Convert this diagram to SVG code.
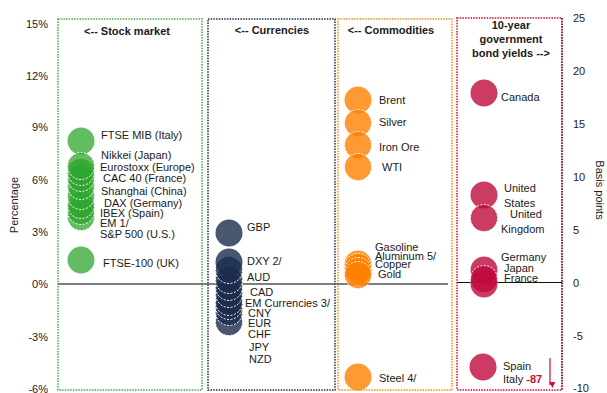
<svg xmlns="http://www.w3.org/2000/svg" width="607" height="393" viewBox="0 0 607 393">
<defs>
<style>
text{font-family:"Liberation Sans",Arial,sans-serif;font-size:11px;fill:#1a1a1a}
.ax{font-size:11px;fill:#222}
.hd{font-weight:bold;font-size:11px;text-anchor:middle}
.g{fill:#2ea52e;fill-opacity:.75}
.n{fill:#1c2c4c;fill-opacity:.8}
.o{fill:#ff7f00;fill-opacity:.8}
.r{fill:#be0a3c;fill-opacity:.8}
.d{stroke:#fff;stroke-width:1;stroke-dasharray:2 1.5}
.pb{fill:none;stroke-width:1.5;stroke-dasharray:1.5 1.2}
</style>
<marker id="ah" viewBox="0 0 10 10" refX="5" refY="9" markerWidth="6" markerHeight="6" orient="auto-start-reverse" markerUnits="userSpaceOnUse"><path d="M0,0 L10,0 L5,10 Z" fill="#c8102e" transform="rotate(-90 5 5)"/></marker>
</defs>
<rect width="607" height="393" fill="#fff"/>

<!-- axes labels -->
<g id="left-axis">
<text class="ax" x="48" y="28" text-anchor="end">15%</text>
<text class="ax" x="48" y="80" text-anchor="end">12%</text>
<text class="ax" x="48" y="131" text-anchor="end">9%</text>
<text class="ax" x="48" y="184" text-anchor="end">6%</text>
<text class="ax" x="48" y="236" text-anchor="end">3%</text>
<text class="ax" x="48" y="288" text-anchor="end">0%</text>
<text class="ax" x="48" y="341" text-anchor="end">-3%</text>
<text class="ax" x="48" y="393" text-anchor="end">-6%</text>
<text class="ax" transform="translate(18 205) rotate(-90)" text-anchor="middle">Percentage</text>
</g>
<g id="right-axis">
<text class="ax" x="573" y="22">25</text>
<text class="ax" x="573" y="75">20</text>
<text class="ax" x="573" y="128">15</text>
<text class="ax" x="573" y="181">10</text>
<text class="ax" x="573" y="234">5</text>
<text class="ax" x="573" y="287">0</text>
<text class="ax" x="573" y="340">-5</text>
<text class="ax" x="573" y="392">-10</text>
<text class="ax" transform="translate(596 190) rotate(90)" text-anchor="middle">Basis points</text>
</g>

<!-- panels -->
<g id="panel-stock">
<rect class="pb" x="58" y="19" width="144" height="371" stroke="#3cb043"/>
<text class="hd" x="127" y="35" fill="#3cb043">&lt;-- Stock market</text>
</g>
<g id="panel-currencies">
<rect class="pb" x="208" y="19" width="127" height="371" stroke="#1f2f4f"/>
<text class="hd" x="272" y="34" fill="#1f2f4f">&lt;-- Currencies</text>
</g>
<g id="panel-commodities">
<rect class="pb" x="338" y="19" width="114" height="371" stroke="#ff8c1a"/>
<text class="hd" x="391" y="34" fill="#ff8c1a">&lt;-- Commodities</text>
</g>
<g id="panel-bonds">
<rect class="pb" x="457" y="18" width="105" height="372" stroke="#c8102e"/>
<line x1="562" y1="18" x2="562" y2="390" stroke="#5a1020" stroke-width="1.2" stroke-dasharray="1.5 1.2"/>
<text class="hd" x="511" y="29" fill="#c8102e">10-year</text>
<text class="hd" x="511" y="43" fill="#c8102e">government</text>
<text class="hd" x="511" y="57" fill="#c8102e">bond yields --&gt;</text>
</g>

<g id="connectors">
<line x1="58" y1="284" x2="448" y2="284" stroke="#555" stroke-width="1.5"/>
<line x1="457" y1="282.5" x2="562" y2="282.5" stroke="#111" stroke-width="1.2"/>
<line x1="550" y1="358" x2="550" y2="385" stroke="#c8102e" stroke-width="1.2" marker-end="url(#ah)"/>
</g>

<!-- stock market nodes -->
<g id="ftse-mib"><circle class="g" cx="81" cy="141" r="13.5"/><text x="101" y="139">FTSE MIB (Italy)</text></g>
<g id="sp500"><circle class="g d" cx="81" cy="217" r="13.5"/><text x="100" y="238">S&amp;P 500 (U.S.)</text></g>
<g id="em1"><circle class="g d" cx="81" cy="211" r="13.5"/><text x="100" y="227">EM 1/</text></g>
<g id="ibex"><circle class="g d" cx="81" cy="205" r="13.5"/><text x="100" y="217">IBEX (Spain)</text></g>
<g id="dax"><circle class="g d" cx="81" cy="196" r="13.5"/><text x="104" y="207">DAX (Germany)</text></g>
<g id="shanghai"><circle class="g d" cx="81" cy="186" r="13.5"/><text x="101" y="195">Shanghai (China)</text></g>
<g id="cac40"><circle class="g d" cx="81" cy="178" r="13.5"/><text x="103" y="182">CAC 40 (France)</text></g>
<g id="eurostoxx"><circle class="g d" cx="81" cy="172" r="13.5"/><text x="100" y="171">Eurostoxx (Europe)</text></g>
<g id="nikkei"><circle class="g d" cx="81" cy="166" r="13.5"/><text x="101" y="159">Nikkei (Japan)</text></g>
<g id="ftse100"><circle class="g" cx="81" cy="260" r="13.5"/><text x="103" y="267">FTSE-100 (UK)</text></g>

<!-- currencies -->
<g id="gbp"><circle class="n" cx="229" cy="233" r="13.5"/><text x="247" y="231">GBP</text></g>
<g id="nzd"><circle class="n d" cx="229" cy="322" r="13.5"/><text x="249" y="363">NZD</text></g>
<g id="jpy"><circle class="n d" cx="229" cy="312" r="13.5"/><text x="249" y="351">JPY</text></g>
<g id="chf"><circle class="n d" cx="229" cy="306" r="13.5"/><text x="248" y="338">CHF</text></g>
<g id="eur"><circle class="n d" cx="229" cy="302" r="13.5"/><text x="248" y="327">EUR</text></g>
<g id="cny"><circle class="n d" cx="229" cy="294" r="13.5"/><text x="248" y="317">CNY</text></g>
<g id="emcur"><circle class="n d" cx="229" cy="287" r="13.5"/><text x="245" y="307">EM Currencies 3/</text></g>
<g id="cad"><circle class="n d" cx="229" cy="280" r="13.5"/><text x="250" y="296">CAD</text></g>
<g id="aud"><circle class="n d" cx="229" cy="270" r="13.5"/><text x="247" y="281">AUD</text></g>
<g id="dxy"><circle class="n" cx="229" cy="262" r="13.5"/><text x="247" y="265">DXY 2/</text></g>

<!-- commodities -->
<g id="brent"><circle class="o" cx="358" cy="100" r="13.5"/><text x="379" y="104">Brent</text></g>
<g id="silver"><circle class="o d" cx="358" cy="123" r="13.5"/><text x="379" y="126">Silver</text></g>
<g id="ironore"><circle class="o d" cx="358" cy="145" r="13.5"/><text x="379" y="151">Iron Ore</text></g>
<g id="wti"><circle class="o d" cx="358" cy="167" r="13.5"/><text x="382" y="171">WTI</text></g>
<g id="gasoline"><circle class="o" cx="358" cy="264" r="13.5"/><text x="375" y="251">Gasoline</text></g>
<g id="aluminum"><circle class="o d" cx="358" cy="267" r="13.5"/><text x="375" y="260">Aluminum  5/</text></g>
<g id="copper"><circle class="o d" cx="358" cy="271" r="13.5"/><text x="375" y="268">Copper</text></g>
<g id="gold"><circle class="o d" cx="358" cy="275" r="13.5"/><text x="378" y="278">Gold</text></g>
<g id="steel"><circle class="o" cx="358" cy="377" r="13.5"/><text x="379" y="382">Steel 4/</text></g>

<!-- bonds -->
<g id="canada"><circle class="r" cx="484" cy="93" r="13.5"/><text x="501" y="101">Canada</text></g>
<g id="us"><circle class="r" cx="484" cy="195" r="13.5"/><text x="504" y="192">United</text><text x="504" y="207">States</text></g>
<g id="uk"><circle class="r d" cx="484" cy="218" r="13.5"/><text x="510" y="218">United</text><text x="501" y="233">Kingdom</text></g>
<g id="germany"><circle class="r" cx="484" cy="270" r="13.5"/><text x="501" y="261">Germany</text></g>
<g id="japan"><circle class="r d" cx="484" cy="279" r="13.5"/><text x="504" y="272">Japan</text></g>
<g id="france"><circle class="r" cx="484" cy="284" r="13.5"/><text x="504" y="282">France</text></g>
<g id="spain-italy"><circle class="r" cx="483" cy="367" r="13.5"/><text x="503" y="370">Spain</text><text x="503" y="383">Italy <tspan font-weight="bold" fill="#c8102e">-87</tspan></text></g>
</svg>
